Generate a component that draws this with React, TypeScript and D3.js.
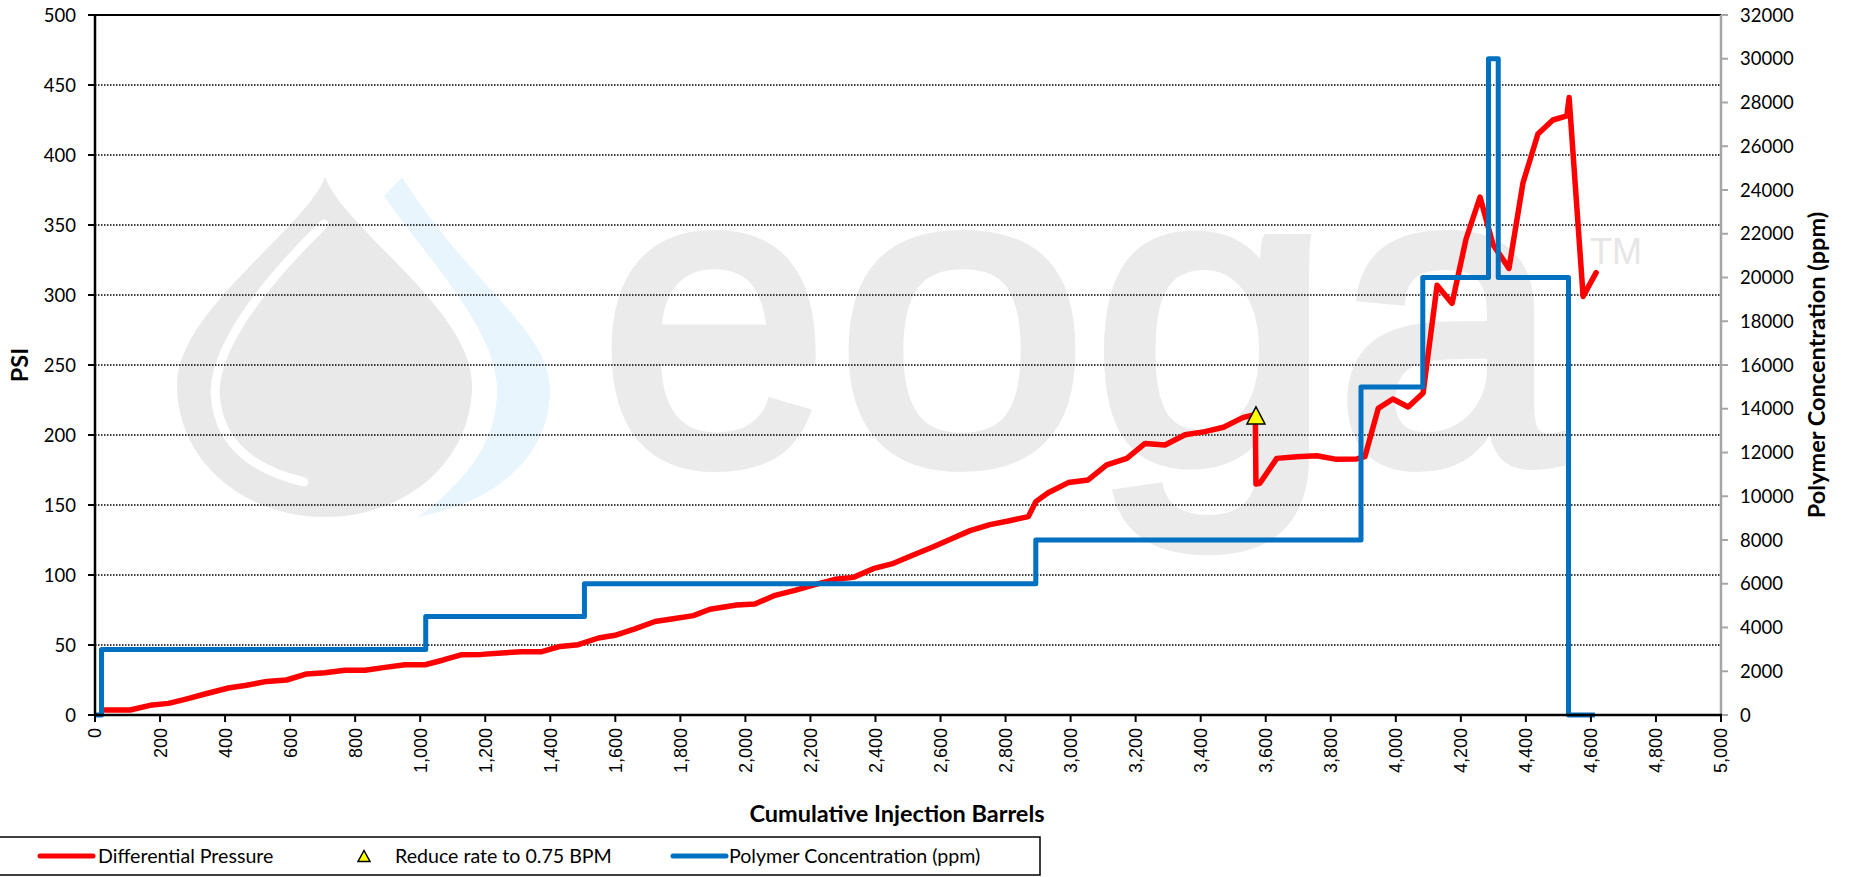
import React, { useEffect } from "react";
import * as d3 from "d3";

// ---------- data ----------
const pressureX = [31, 108, 169, 226, 277, 338, 410, 466, 528, 589, 651, 707, 769, 830, 892, 953, 1015, 1071, 1128, 1189, 1251, 1312, 1374, 1430, 1486, 1548, 1599, 1660, 1722, 1783, 1840, 1891, 1973, 2029, 2091, 2152, 2214, 2275, 2332, 2393, 2450, 2516, 2578, 2634, 2691, 2752, 2808, 2870, 2893, 2931, 2993, 3054, 3111, 3173, 3229, 3290, 3352, 3413, 3470, 3531, 3568, 3570, 3582, 3634, 3695, 3757, 3818, 3880, 3905, 3946, 3991, 4038, 4084, 4127, 4173, 4216, 4259, 4299, 4348, 4391, 4437, 4483, 4526, 4533, 4576, 4616];
const pressurePsi = [3.6, 3.6, 6.9, 8.3, 11.2, 15.0, 19.3, 21.2, 24.0, 25.0, 29.3, 30.2, 31.9, 31.9, 34.0, 35.9, 35.9, 39.3, 43.1, 43.3, 44.3, 45.2, 45.2, 49.0, 50.2, 55.0, 56.9, 61.5, 66.8, 68.9, 71.0, 75.5, 78.6, 79.3, 85.5, 89.0, 93.1, 96.9, 98.3, 104.5, 107.9, 114.3, 120.2, 125.9, 131.7, 136.0, 138.6, 141.7, 152.4, 158.8, 166.0, 167.9, 178.6, 183.3, 194.0, 192.9, 200.2, 202.4, 205.5, 212.6, 214.5, 165.0, 165.5, 183.3, 184.5, 185.2, 182.6, 182.9, 184.5, 219.0, 225.7, 220.0, 230.0, 307.0, 294.0, 340.0, 370.0, 336.0, 319.0, 380.0, 415.0, 425.0, 428.0, 441.0, 299.0, 316.0];

const markerX = [3570];
const markerPsi = [214];

const polymerX = [0, 20, 1017, 1505, 2893, 3893, 4083, 4285, 4315, 4531, 4612];
const polymerPpm = [0, 3000, 4500, 6000, 8000, 15000, 20000, 30000, 20000, 0, 0];

const xTicks = [0, 200, 400, 600, 800, 1000, 1200, 1400, 1600, 1800, 2000, 2200, 2400, 2600, 2800, 3000, 3200, 3400, 3600, 3800, 4000, 4200, 4400, 4600, 4800, 5000];
const psiTicks = [0, 50, 100, 150, 200, 250, 300, 350, 400, 450, 500];
const ppmTicks = [0, 2000, 4000, 6000, 8000, 10000, 12000, 14000, 16000, 18000, 20000, 22000, 24000, 26000, 28000, 30000, 32000];

const seriesNames = ["Differential Pressure", "Reduce rate to 0.75 BPM", "Polymer Concentration (ppm)"];

// watermark letters (decorative background)
const wmLetters = ["e", "o", "g", "a"];
const wmLeft = [600, 836, 1092, 1336];
const wmWidth = [228, 252, 240, 224];

// ---------- layout ----------
const W = 1850;
const H = 877;
const LEFT = 95;
const RIGHT = 1721;
const TOP = 15;
const BOTTOM = 715;
const FONT = "Lato, 'Open Sans', sans-serif";
const RED = "#ff0000";
const BLUE = "#0070c0";

export default function App() {
  useEffect(() => {
    document.body.style.margin = "0";
    document.body.style.overflow = "hidden";
  }, []);

  const x = d3.scaleLinear().domain([0, 5000]).range([LEFT, RIGHT]);
  const y = d3.scaleLinear().domain([0, 500]).range([BOTTOM, TOP]);
  const y2 = d3.scaleLinear().domain([0, 32000]).range([BOTTOM, TOP]);

  const pressure: [number, number][] = pressureX.map((v, i) => [v, pressurePsi[i]]);
  const polymer: [number, number][] = polymerX.map((v, i) => [v, polymerPpm[i]]);

  const redLine = d3.line<[number, number]>().x((d) => x(d[0])).y((d) => y(d[1]))(pressure) || "";
  const blueLine = d3
    .line<[number, number]>()
    .x((d) => x(d[0]))
    .y((d) => y2(d[1]))
    .curve(d3.curveStepAfter)(polymer) || "";

  const fmt = d3.format(",");

  const tri = (cx: number, cy: number, w: number, h: number) =>
    `M${cx},${cy - h / 2}L${cx + w / 2},${cy + h / 2}L${cx - w / 2},${cy + h / 2}Z`;

  const legendY = 856;

  return (
    <svg width={W} height={H} style={{ position: "absolute", left: 0, top: 0, display: "block", background: "#fff" }}>
      <rect x={0} y={0} width={W} height={H} fill="#fff" />

      {/* watermark logo */}
      <g>
        <path
          d="M325,177 C305,230 177,310 177,385 C177,462 245,517 325,517 C405,517 472,462 472,385 C472,310 345,230 325,177 Z"
          fill="#e9e9e9"
        />
        <path
          d="M324,224 Q216,330 215,392 Q218,462 304,482"
          fill="none"
          stroke="#fff"
          strokeWidth={9}
          strokeLinecap="round"
        />
        <path
          d="M402,177 C470,285 550,330 550,390 C550,450 505,500 418,517 C470,478 497,440 497,390 C497,330 430,262 384,196 Z"
          fill="#e8f5fc"
        />
        {wmLetters.map((ch, i) => (
          <text
            key={"wm" + i}
            x={wmLeft[i]}
            y={462}
            fontFamily="'Liberation Sans', Arial, sans-serif"
            fontSize={420}
            fill="#ebebeb"
            stroke="#ebebeb"
            strokeWidth={12}
            textLength={wmWidth[i]}
            lengthAdjust="spacingAndGlyphs"
          >
            {ch}
          </text>
        ))}
        <text x={1590} y={264} fontFamily="'Liberation Sans', Arial, sans-serif" fontSize={36} fill="#e6e6e6">
          TM
        </text>
      </g>

      {/* gridlines */}
      {psiTicks
        .filter((t) => t > 0 && t < 500)
        .map((t) => (
          <line
            key={"g" + t}
            x1={LEFT}
            x2={RIGHT}
            y1={y(t)}
            y2={y(t)}
            stroke="#000"
            strokeWidth={1.5}
            strokeDasharray="1.5 1.5"
          />
        ))}
      <line x1={LEFT} x2={RIGHT} y1={y(500)} y2={y(500)} stroke="#000" strokeWidth={1.8} />

      {/* series */}
      <path d={redLine} fill="none" stroke={RED} strokeWidth={5.5} strokeLinejoin="round" strokeLinecap="round" />
      <path d={blueLine} fill="none" stroke={BLUE} strokeWidth={5} strokeLinejoin="round" />
      {markerX.map((mx, i) => (
        <path key={"m" + i} d={tri(x(mx), y(markerPsi[i]), 18, 17)} fill="#ffff00" stroke="#000" strokeWidth={1.5} />
      ))}

      {/* right axis */}
      <line x1={RIGHT} x2={RIGHT} y1={TOP} y2={BOTTOM} stroke="#a6a6a6" strokeWidth={2.5} />
      {ppmTicks.map((t) => (
        <g key={"r" + t}>
          <line x1={RIGHT} x2={RIGHT + 7} y1={y2(t)} y2={y2(t)} stroke="#a6a6a6" strokeWidth={2} />
          <text x={1740} y={y2(t)} dy="0.36em" fontFamily={FONT} fontSize={18.5} fill="#000">
            {t}
          </text>
        </g>
      ))}

      {/* left axis */}
      <line x1={LEFT} x2={LEFT} y1={TOP - 1} y2={BOTTOM + 1} stroke="#000" strokeWidth={2.5} />
      {psiTicks.map((t) => (
        <g key={"l" + t}>
          <line x1={LEFT - 7} x2={LEFT} y1={y(t)} y2={y(t)} stroke="#000" strokeWidth={2} />
          <text x={76} y={y(t)} dy="0.36em" textAnchor="end" fontFamily={FONT} fontSize={18.5} fill="#000">
            {t}
          </text>
        </g>
      ))}

      {/* bottom axis */}
      <line x1={LEFT - 1} x2={RIGHT + 1} y1={BOTTOM} y2={BOTTOM} stroke="#000" strokeWidth={2.5} />
      {xTicks.map((t) => (
        <g key={"x" + t}>
          <line x1={x(t)} x2={x(t)} y1={BOTTOM} y2={BOTTOM + 7} stroke="#000" strokeWidth={2} />
          <text
            transform={`translate(${x(t)},${728}) rotate(-90)`}
            textAnchor="end"
            dy="0.36em"
            fontFamily="'Liberation Sans', Arial, sans-serif"
            fontSize={18}
            fill="#000"
          >
            {fmt(t)}
          </text>
        </g>
      ))}

      {/* axis titles */}
      <text
        transform={`translate(20,${(TOP + BOTTOM) / 2}) rotate(-90)`}
        textAnchor="middle"
        dy="0.36em"
        fontFamily={FONT}
        fontWeight="bold"
        fontSize={23.5}
        fill="#000"
      >
        PSI
      </text>
      <text
        transform={`translate(1817,${(TOP + BOTTOM) / 2}) rotate(-90)`}
        textAnchor="middle"
        dy="0.36em"
        fontFamily={FONT}
        fontWeight="bold"
        fontSize={23.5}
        fill="#000"
      >
        Polymer Concentration (ppm)
      </text>
      <text x={897} y={814} dy="0.36em" textAnchor="middle" fontFamily={FONT} fontWeight="bold" fontSize={23.5} fill="#000">
        Cumulative Injection Barrels
      </text>

      {/* legend */}
      <rect x={-1} y={837} width={1041} height={38} fill="#fff" stroke="#000" strokeWidth={1.5} />
      <line x1={40} x2={93} y1={legendY} y2={legendY} stroke={RED} strokeWidth={5} strokeLinecap="round" />
      <text x={98} y={legendY} dy="0.36em" fontFamily={FONT} fontSize={19.6} fill="#000">
        {seriesNames[0]}
      </text>
      <path d={tri(364, legendY, 12, 11)} fill="#ffff00" stroke="#000" strokeWidth={1.5} />
      <text x={395} y={legendY} dy="0.36em" fontFamily={FONT} fontSize={19.6} fill="#000">
        {seriesNames[1]}
      </text>
      <line x1={673} x2={726} y1={legendY} y2={legendY} stroke={BLUE} strokeWidth={5} strokeLinecap="round" />
      <text x={729} y={legendY} dy="0.36em" fontFamily={FONT} fontSize={19.6} fill="#000">
        {seriesNames[2]}
      </text>
    </svg>
  );
}
